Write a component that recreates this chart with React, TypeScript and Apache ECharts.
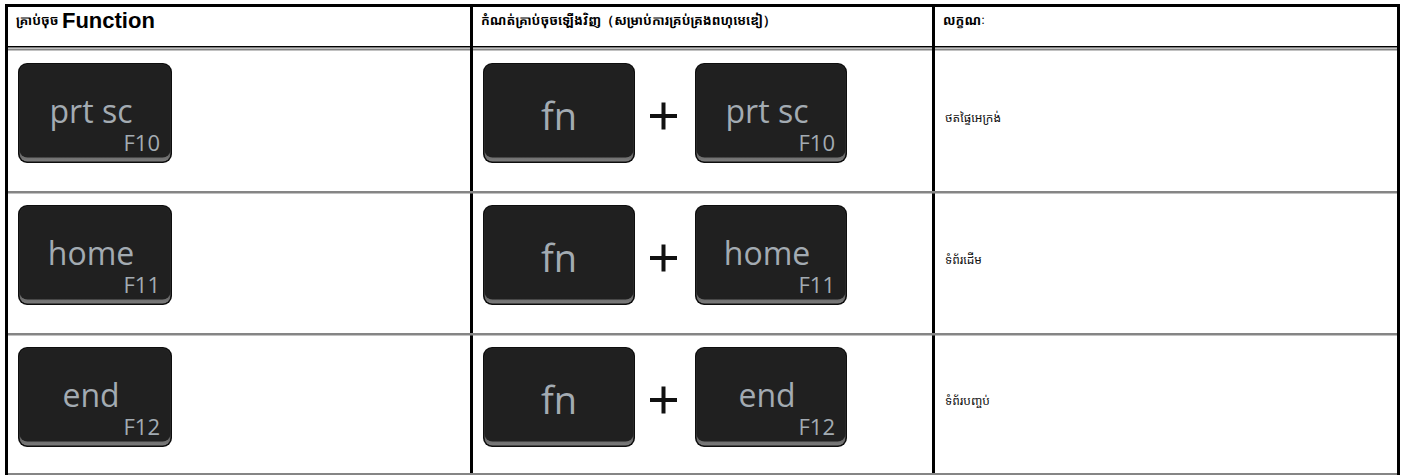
import React, { useEffect, useRef } from 'react';
import * as echarts from 'echarts';

const headerKhmerKey = 'គ្រាប់ចុច';
const headerFunction = 'Function';
const headerRemap = 'កំណត់គ្រាប់ចុចឡើងវិញ（សម្រាប់ការគ្រប់គ្រងពហុមេឌៀ）';
const headerBehavior = 'លក្ខណៈ';
const keyNames = ['prt sc', 'home', 'end'];
const fKeys = ['F10', 'F11', 'F12'];
const modifierKey = 'fn';
const descriptions = ['ថតផ្ទៃអេក្រង់', 'ទំព័រដើម', 'ទំព័របញ្ចប់'];

const KEY_FONT = "'Open Sans', 'Noto Sans', sans-serif";
const KHMER_FONT = "'Noto Sans Khmer', 'Khmer OS', 'Noto Sans', 'DejaVu Sans', sans-serif";
const KEY_TEXT = '#a3abb2';

function keyCap(x: number, y: number, w: number, h: number, main: string, sub: string | null, mainSize: number, mainDx: number, mainDy: number): any {
  const children: any[] = [
    { type: 'rect', shape: { x, y, width: w, height: h, r: 9 }, style: { fill: '#0e0e0e' } },
    {
      type: 'rect',
      shape: { x: x + 1.5, y: y + 1.5, width: w - 3, height: h - 3, r: 8 },
      style: {
        fill: {
          type: 'linear', x: 0, y: 0, x2: 0, y2: 1,
          colorStops: [
            { offset: 0, color: '#3a3a3a' },
            { offset: 0.9, color: '#5e5e5e' },
            { offset: 1, color: '#7c7c7c' },
          ],
        },
      },
    },
    { type: 'rect', shape: { x: x + 1.5, y: y + 1.5, width: w - 3, height: h - 7, r: 8 }, style: { fill: '#202020' } },
    {
      type: 'text',
      style: {
        text: main, x: x + w / 2 + mainDx, y: y + mainDy, align: 'center', verticalAlign: 'middle',
        fill: KEY_TEXT, fontSize: mainSize, fontFamily: KEY_FONT,
      },
    },
  ];
  if (sub) {
    children.push({
      type: 'text',
      style: {
        text: sub, x: x + w - 12, y: y + 79, align: 'right', verticalAlign: 'middle',
        fill: KEY_TEXT, fontSize: 22, fontFamily: KEY_FONT,
      },
    });
  }
  return { type: 'group', children };
}

export default function App() {
  const ref = useRef<HTMLDivElement>(null);
  useEffect(() => {
    document.body.style.margin = '0';
    if (!ref.current) return;
    const chart = echarts.init(ref.current, null, { renderer: 'svg' });

    const rowTops = [51, 193, 335];
    const rowBottoms = [191, 333, 473];
    const elements: any[] = [];
    elements.push({ type: 'rect', shape: { x: 0, y: 0, width: 1405, height: 475 }, style: { fill: '#ffffff' } });

    // header texts
    elements.push({
      type: 'text',
      style: {
        text: `{k|${headerKhmerKey}} {f|${headerFunction}}`,
        x: 16, y: 20, verticalAlign: 'middle',
        rich: {
          k: { fontSize: 13, fontWeight: 'bold', fontFamily: KHMER_FONT, fill: '#000' },
          f: { fontSize: 22, fontWeight: 'bold', fontFamily: "'Liberation Sans', Arial, sans-serif", fill: '#000' },
        },
      },
    });
    elements.push({
      type: 'text',
      style: { text: headerRemap, x: 481, y: 20, verticalAlign: 'middle', fontSize: 13, fontWeight: 'bold', fontFamily: KHMER_FONT, fill: '#000' },
    });
    elements.push({
      type: 'text',
      style: { text: headerBehavior, x: 943, y: 20, verticalAlign: 'middle', fontSize: 13, fontWeight: 'bold', fontFamily: KHMER_FONT, fill: '#000' },
    });

    keyNames.forEach((name, i) => {
      const top = rowTops[i] + 12;
      elements.push(keyCap(18, top, 154, 100, name, fKeys[i], 32, -4, 47));
      elements.push(keyCap(483, top, 152, 100, modifierKey, null, 38, 0, 52));
      elements.push({ type: 'rect', shape: { x: 650, y: top + 51, width: 27, height: 4 }, style: { fill: '#111' } });
      elements.push({ type: 'rect', shape: { x: 661.5, y: top + 39.5, width: 4, height: 27 }, style: { fill: '#111' } });
      elements.push(keyCap(695, top, 152, 100, name, fKeys[i], 32, -4, 47));
      elements.push({
        type: 'text',
        style: {
          text: descriptions[i], x: 945, y: (rowTops[i] + rowBottoms[i]) / 2 - 4, verticalAlign: 'middle',
          fontSize: 12, fontFamily: KHMER_FONT, fill: '#111',
        },
      });
    });

    // grid lines
    const black = '#000';
    const gray = '#858585';
    elements.push({ type: 'rect', shape: { x: 5, y: 46, width: 1395, height: 1.5 }, style: { fill: black } });
    elements.push({ type: 'rect', shape: { x: 5, y: 48.5, width: 1395, height: 2 }, style: { fill: gray } });
    elements.push({ type: 'rect', shape: { x: 470, y: 4, width: 3, height: 471 }, style: { fill: black } });
    elements.push({ type: 'rect', shape: { x: 932, y: 4, width: 3, height: 471 }, style: { fill: black } });
    rowBottoms.forEach((b) => {
      elements.push({ type: 'rect', shape: { x: 5, y: b, width: 1395, height: 2.5 }, style: { fill: gray } });
    });
    elements.push({ type: 'rect', shape: { x: 5, y: 4, width: 1395, height: 3 }, style: { fill: black } });
    elements.push({ type: 'rect', shape: { x: 5, y: 4, width: 3, height: 471 }, style: { fill: black } });
    elements.push({ type: 'rect', shape: { x: 1397, y: 4, width: 3, height: 471 }, style: { fill: black } });

    chart.setOption({
      animation: false,
      graphic: { elements },
    });
    return () => chart.dispose();
  }, []);
  return <div ref={ref} style={{ width: 1405, height: 475 }} />;
}
